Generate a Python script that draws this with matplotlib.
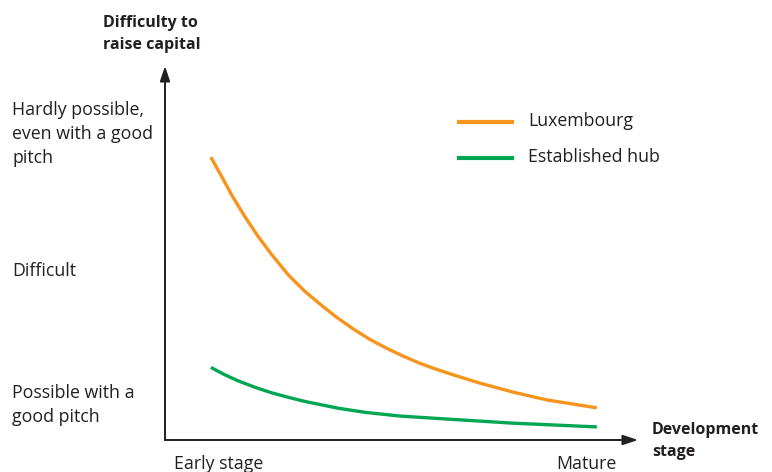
import matplotlib.pyplot as plt
from matplotlib.transforms import blended_transform_factory

# stage (0 = y axis, 1 = arrow tip) and difficulty (0 = x axis, 1 = arrow tip)
lux_x = [0.097, 0.120, 0.141, 0.169, 0.197, 0.226, 0.261, 0.296, 0.331, 0.363, 0.398,
         0.433, 0.469, 0.504, 0.539, 0.574, 0.610, 0.666, 0.736, 0.808, 0.913]
lux_y = [0.756, 0.704, 0.655, 0.597, 0.544, 0.495, 0.441, 0.397, 0.360, 0.328, 0.297,
         0.269, 0.245, 0.224, 0.205, 0.189, 0.174, 0.152, 0.128, 0.107, 0.086]
hub_x = [0.097, 0.127, 0.155, 0.190, 0.226, 0.261, 0.296, 0.331, 0.366, 0.423, 0.497,
         0.596, 0.736, 0.913]
hub_y = [0.194, 0.174, 0.158, 0.141, 0.126, 0.114, 0.103, 0.094, 0.085, 0.074, 0.064,
         0.056, 0.045, 0.035]

series_names = ["Luxembourg", "Established hub"]
series_colors = ["#F7941D", "#00A651"]

y_labels = ["Hardly possible,\neven with a good\npitch", "Difficult", "Possible with a\ngood pitch"]
y_label_pos = [0.818, 0.452, 0.094]
x_labels = ["Early stage", "Mature"]
x_label_pos = [0.114, 0.890]

plt.rcParams["font.family"] = ["Open Sans", "DejaVu Sans"]
W, H = 772, 472
fig = plt.figure(figsize=(W / 100, H / 100), dpi=100)
ax = fig.add_axes([165 / W, 32 / H, 473 / W, 374 / H])
ax.set_xlim(0, 1)
ax.set_ylim(0, 1)
ax.axis("off")

# axes with arrow heads
arrow = dict(arrowstyle="-|>,head_length=0.9,head_width=0.3", color="#231F20", lw=1.4,
             shrinkA=0, shrinkB=0)
ax.annotate("", xy=(1, 0), xytext=(0, 0), arrowprops=arrow, annotation_clip=False)
ax.annotate("", xy=(0, 1), xytext=(0, 0), arrowprops=arrow, annotation_clip=False)

ax.plot(lux_x, lux_y, color=series_colors[0], lw=2.4, solid_capstyle="butt",
        solid_joinstyle="round", clip_on=False)
ax.plot(hub_x, hub_y, color=series_colors[1], lw=2.4, solid_capstyle="butt",
        solid_joinstyle="round", clip_on=False)

txt = "#231F20"
fs = 12.8
tr = blended_transform_factory(fig.transFigure, ax.transData)
for lab, pos in zip(y_labels, y_label_pos):
    ax.text(12 / W, pos, lab, transform=tr, ha="left", va="center", fontsize=fs,
            color=txt, linespacing=1.42)

for lab, pos in zip(x_labels, x_label_pos):
    ax.text(pos, -0.04, lab, ha="center", va="top", fontsize=fs, color=txt)

fig.text(103 / W, 1 - 15 / H, "Difficulty to\nraise capital", ha="left", va="top",
         fontsize=11.5, fontweight="bold", color=txt, linespacing=1.5)
fig.text(652 / W, 1 - 422 / H, "Development\nstage", ha="left", va="top",
         fontsize=11.5, fontweight="bold", color=txt, linespacing=1.5)

# legend drawn by hand
for i, (name, col) in enumerate(zip(series_names, series_colors)):
    yy = 1 - (122 + 36 * i) / H
    fig.add_artist(plt.Line2D([459 / W, 512 / W], [yy, yy], color=col, lw=3.0,
                              transform=fig.transFigure))
    fig.text(528 / W, yy + 1 / H, name, ha="left", va="center", fontsize=fs, color=txt)

fig.savefig("out.png", dpi=100, facecolor="white")
